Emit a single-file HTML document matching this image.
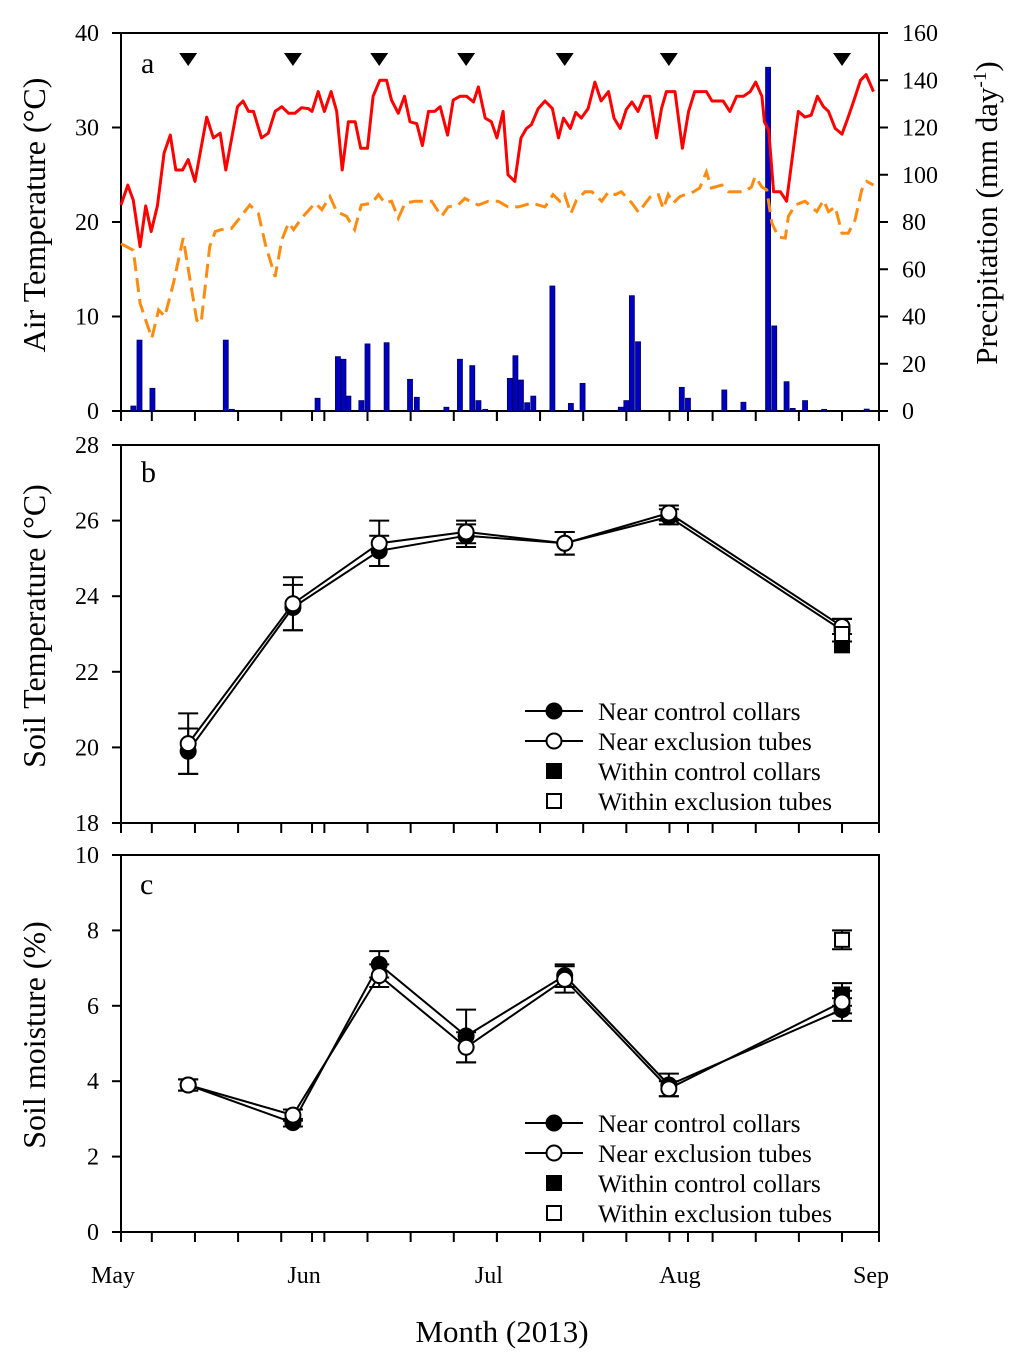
<!DOCTYPE html>
<html><head><meta charset="utf-8"><style>
body{margin:0;background:#fff}
svg{display:block;font-family:"Liberation Serif",serif}
</style></head><body>
<svg id="chart" width="1024" height="1361" viewBox="0 0 1024 1361" xmlns="http://www.w3.org/2000/svg"></svg>
<script>
// ---- data ----
const maxDays=[0,1.1,2,3.1,4,4.9,5.9,7,8,8.9,10,10.9,12,13.9,15,16.1,17,18.9,19.8,20.7,21.5,22.8,23.9,25,26.1,27.2,28.2,29.3,30.4,31,32,33,34.1,35,35.9,36.9,38,38.9,40,40.9,42,43.1,43.9,45,46,46.9,48,48.9,49.9,50.9,51.8,53,53.9,55,56.1,57.2,58,59.1,60.1,61,62,62.8,63.9,64.9,65.8,66.6,67.7,68.8,70,71,71.8,72.9,73.8,74.7,75.8,76.9,77.9,79.1,80,81,82,82.9,83.9,84.9,85.8,86.9,87.7,88.5,89.9,91.1,92.1,93.1,95,95.9,97.7,98.8,99.9,101,102.1,103,104,104.4,105.1,105.9,107,108,109.9,111,112,113,114,114.8,115.9,117,118,118.8,120,120.9,122.1];
const maxTemp=[21.8,23.9,22.3,17.4,21.7,19,21.7,27.3,29.2,25.5,25.5,26.6,24.3,31.1,28.9,29.4,25.5,32.2,32.8,31.7,31.7,28.9,29.4,31.7,32.2,31.5,31.5,32.1,32,31.7,33.8,31.7,33.8,31.7,25.5,30.6,30.6,27.8,27.8,33.3,35,35,32.9,31.5,33.3,30.6,30.4,28.1,31.7,31.7,32.2,29.2,32.9,33.3,33.3,32.7,34.3,31,30.6,28.9,31.7,25,24.3,28.9,29.9,30.3,32,32.8,32,28.9,31,29.9,31.6,31,32,34.8,32.8,33.8,31,29.9,31.9,32.7,31.7,33.3,33.3,28.9,32,33.8,33.8,27.8,31.7,33.8,33.8,32.8,32.8,31.7,33.3,33.3,33.8,34.8,33.3,30.6,29.7,23.2,23.2,22.2,31.7,31.1,31.3,33.3,32.2,31.7,29.9,29.3,31.1,32.6,35,35.6,33.8];
const minDays=[0,2,3.1,5,6.1,7.1,8.5,10.1,11.2,12.3,13,14.4,15.3,16.3,17.9,19,20.9,22.3,23.4,25,26.1,27.2,28,29.3,31.5,32.6,33.9,35,36.6,37.9,39,40.7,41.8,42.8,43.9,45,46.1,47.7,50.4,52,53.1,54.7,55.8,57.2,58,59.6,61.2,62.8,64.5,66.6,68.8,70.1,71.2,72,73,73.9,75.3,76.4,78,79.1,80.2,81.2,82.9,84,85.1,86.2,87.2,88,88.8,89.6,90.7,92.9,93.9,95,95.8,97.5,98.6,101.2,102.3,102.9,104,104.8,105.6,106.7,107.8,108.3,109.4,111,112.9,114,114.8,115.9,117,118,119.1,120.2,121,122.1];
const minTemp=[17.7,17,11.4,7.7,10.7,10,13.5,18.3,13.9,9.6,9.3,17.4,19,19.2,19.3,20.2,21.8,20.9,17.7,14.2,18.1,19.9,19.2,20.4,22,21.3,22.7,21.1,20.6,19.2,21.8,22,22.9,22,22.2,20.4,22,22.2,22.2,20.6,21.6,21.8,22.5,22,21.8,22.2,22.2,21.6,21.6,22,21.6,22.9,22.2,22.9,20.9,22.3,23.2,23.2,22.2,23.2,22.9,23.2,22,21,22,22.9,22.9,21.4,22.9,22,22.7,23.2,23.6,25.3,23.6,23.9,23.2,23.2,23.7,24.8,23.7,23.4,19.9,18.4,18.3,20.6,21.8,22.2,21.1,22.3,21.1,21.6,18.8,18.8,20.2,23.4,24.3,23.9];
const rainDays=[2,3,5.1,17,18,31.9,35.2,36.1,36.9,39,40,43.1,46.9,48,52.8,55,57,58,59.1,63.1,64,64.9,65.9,66.9,70,73,74.9,81.1,82,82.9,83.9,91,92,97.9,101,105,106,108,109,111,114.1,121];
const rainMm=[2.1,30,9.6,30,0.7,5.4,23,21.9,6.3,4.4,28.4,28.9,13.4,5.8,1.6,21.9,19.2,4.4,0.7,13.8,23.4,13.1,3.5,6.3,52.9,3.2,11.7,1.6,4.4,48.8,29.3,10,5.4,8.9,3.7,145.5,36,12.4,1.1,4.4,0.7,0.8];
const sampleDays=[10.9,27.9,41.9,56,72,88.9,117];
const soilTNearCtrl=[19.9,23.7,25.2,25.6,25.4,26.1,23.1];
const soilTNearCtrlErr=[0.6,0.6,0.4,0.3,0.3,0.2,0.3];
const soilTNearExcl=[20.1,23.8,25.4,25.7,25.4,26.2,23.2];
const soilTNearExclErr=[0.8,0.7,0.6,0.3,0.3,0.2,0.2];
const soilTWithinCtrl=[22.7];
const soilTWithinExcl=[23.0];
const soilMNearCtrl=[3.9,2.9,7.1,5.2,6.8,3.9,5.9];
const soilMNearCtrlErr=[0.15,0.1,0.35,0.7,0.3,0.3,0.3];
const soilMNearExcl=[3.9,3.1,6.8,4.9,6.7,3.8,6.1];
const soilMNearExclErr=[0.15,0.15,0.3,0.4,0.35,0.2,0.3];
const soilMWithinCtrl=[6.3];
const soilMWithinExcl=[7.75];
const withinErr=[0.3,0.25];
const monthLabels=["May","Jun","Jul","Aug","Sep"];
const monthDays=[0,31,61,92,123];

// ---- helpers ----
const svg=document.getElementById('chart');
const NS="http://www.w3.org/2000/svg";
function mk(tag,attrs,parent){const e=document.createElementNS(NS,tag);for(const k in attrs)e.setAttribute(k,attrs[k]);(parent||svg).appendChild(e);return e;}
const X0=121,X1=879;
const xs=d=>X0+(X1-X0)*d/123;
const panels={a:{t:33,b:411,min:0,max:40},b:{t:445,b:823,min:18,max:28},c:{t:855,b:1232,min:0,max:10}};
function ys(p,v){const P=panels[p];return P.b-(v-P.min)/(P.max-P.min)*(P.b-P.t);}
const yRain=v=>411-v/160*378;

function frame(p,ticks){
  const P=panels[p];
  const g=mk('g',{});
  
  
  mk('rect',{x:X0,y:P.t,width:X1-X0,height:P.b-P.t,fill:'none',stroke:'#000','stroke-width':2},g);
  const xt=[];for(let d=5;d<=117;d+=7)xt.push(d);monthDays.forEach(d=>xt.push(d));
  xt.forEach(d=>mk('line',{x1:xs(d),x2:xs(d),y1:P.b,y2:P.b+10,stroke:'#000','stroke-width':2},g));
  ticks.forEach(v=>{const y=ys(p,v);
    mk('line',{x1:X0-9,x2:X0,y1:y,y2:y,stroke:'#000','stroke-width':2},g);
    const t=mk('text',{x:X0-22,y:y+8,'font-size':24,'text-anchor':'end'},g);t.textContent=v;
    
    });
}
frame('a',[0,10,20,30,40]);
frame('b',[18,20,22,24,26,28]);
frame('c',[0,2,4,6,8,10]);
[0,20,40,60,80,100,120,140,160].forEach(v=>{const y=yRain(v);
  mk('line',{x1:X1,x2:X1+9,y1:y,y2:y,stroke:'#000','stroke-width':2});
  const t=mk('text',{x:X1+23,y:y+8,'font-size':24});t.textContent=v;
  
  });

rainDays.forEach((d,i)=>{const y=yRain(rainMm[i]);
  const r=mk('rect',{x:xs(d)-2.5,y:y,width:5,height:411-y,fill:'#0000c0',stroke:'#000060','stroke-width':0.8});
  
  });
function poly(days,vals,attrs,name){const pts=days.map((d,i)=>xs(d).toFixed(1)+','+ys('a',vals[i]).toFixed(1)).join(' ');
  const l=mk('polyline',Object.assign({points:pts,fill:'none'},attrs));}
poly(minDays,minTemp,{stroke:'#ff8c10','stroke-width':3,'stroke-dasharray':'14 7'},'min-temp-line');
poly(maxDays,maxTemp,{stroke:'#ff0000','stroke-width':3,'stroke-linejoin':'round'},'max-temp-line');
sampleDays.forEach(d=>{const x=xs(d);
  const t=mk('polygon',{points:`${x-9},53 ${x+9},53 ${x},66`,fill:'#000'});
  
  });

function series(p,vals,errs,filled,name){
  const pts=vals.map((v,i)=>xs(sampleDays[i]).toFixed(1)+','+ys(p,v).toFixed(1)).join(' ');
  const l=mk('polyline',{points:pts,fill:'none',stroke:'#000','stroke-width':2});
  
  vals.forEach((v,i)=>{const x=xs(sampleDays[i]);const y1=ys(p,v-errs[i]),y2=ys(p,v+errs[i]);
    mk('line',{x1:x,x2:x,y1:y1,y2:y2,stroke:'#000','stroke-width':2});
    mk('line',{x1:x-10,x2:x+10,y1:y1,y2:y1,stroke:'#000','stroke-width':2});
    mk('line',{x1:x-10,x2:x+10,y1:y2,y2:y2,stroke:'#000','stroke-width':2});});
  vals.forEach((v,i)=>{const c=mk('circle',{cx:xs(sampleDays[i]),cy:ys(p,v),r:7.5,fill:filled?'#000':'#fff',stroke:'#000','stroke-width':2});
    });
}
function square(p,v,err,filled,name){const x=xs(sampleDays[6]),y=ys(p,v);
  if(err){const y1=ys(p,v-err),y2=ys(p,v+err);
    mk('line',{x1:x,x2:x,y1:y1,y2:y2,stroke:'#000','stroke-width':2});
    mk('line',{x1:x-10,x2:x+10,y1:y1,y2:y1,stroke:'#000','stroke-width':2});
    mk('line',{x1:x-10,x2:x+10,y1:y2,y2:y2,stroke:'#000','stroke-width':2});}
  const r=mk('rect',{x:x-7,y:y-7,width:14,height:14,fill:filled?'#000':'#fff',stroke:'#000','stroke-width':2});
  }
series('b',soilTNearCtrl,soilTNearCtrlErr,true,'soil-temp-near-control');
series('b',soilTNearExcl,soilTNearExclErr,false,'soil-temp-near-exclusion');
square('b',soilTWithinCtrl[0],0,true,'soil-temp-within-control');
square('b',soilTWithinExcl[0],0,false,'soil-temp-within-exclusion');
series('c',soilMNearCtrl,soilMNearCtrlErr,true,'soil-moist-near-control');
square('c',soilMWithinCtrl[0],withinErr[0],true,'soil-moist-within-control');
series('c',soilMNearExcl,soilMNearExclErr,false,'soil-moist-near-exclusion');
square('c',soilMWithinExcl[0],withinErr[1],false,'soil-moist-within-exclusion');

function legend(y0,p){const g=mk('g',{});
  const labs=["Near control collars","Near exclusion tubes","Within control collars","Within exclusion tubes"];
  labs.forEach((s,i)=>{const y=y0+i*30;
    if(i<2){mk('line',{x1:525,x2:583,y1:y,y2:y,stroke:'#000','stroke-width':2},g);
      mk('circle',{cx:554,cy:y,r:7.5,fill:i==0?'#000':'#fff',stroke:'#000','stroke-width':2},g);}
    else mk('rect',{x:547,y:y-7,width:14,height:14,fill:i==2?'#000':'#fff',stroke:'#000','stroke-width':2},g);
    const t=mk('text',{x:598,y:y+9,'font-size':25.5},g);t.textContent=s;});
}
legend(711,'b');legend(1123,'c');

function txt(x,y,s,size,name,extra){const t=mk('text',Object.assign({x:x,y:y,'font-size':size},extra||{}));t.textContent=s;
  return t;}
txt(141,73,'a',30,'panel-a-label');txt(141,482,'b',30,'panel-b-label');txt(140,894,'c',30,'panel-c-label');
monthLabels.forEach((m,i)=>txt(xs(monthDays[i])-8,1283,m,24,'x-tick-label',{'text-anchor':'middle'}));
txt(502,1342,'Month (2013)',31,'x-axis-title',{'text-anchor':'middle'});
txt(0,0,'Air Temperature (°C)',32,'y-axis-title-air',{'text-anchor':'middle',transform:'translate(45,215) rotate(-90)'});
txt(0,0,'Soil Temperature (°C)',32,'y-axis-title-soil-temp',{'text-anchor':'middle',transform:'translate(45,626) rotate(-90)'});
txt(0,0,'Soil moisture (%)',32,'y-axis-title-moisture',{'text-anchor':'middle',transform:'translate(45,1035) rotate(-90)'});
const pt=txt(0,0,'',31,'y-axis-title-precip',{'text-anchor':'middle',transform:'translate(997,213) rotate(-90)'});
pt.innerHTML='Precipitation (mm day<tspan dy="-11" font-size="19">-1</tspan><tspan dy="11">)</tspan>';
</script>
</body></html>
